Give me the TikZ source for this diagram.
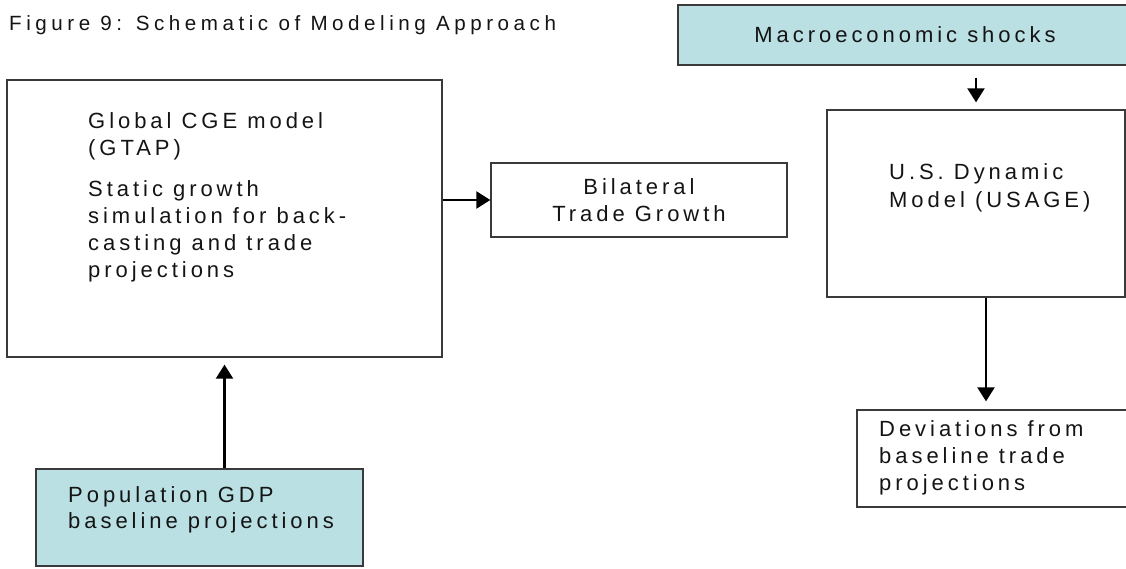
\documentclass[tikz,border=0pt]{standalone}
\usepackage{fontspec}
\setmainfont{Liberation Sans}
\newfontfamily\spaced[LetterSpace=18]{Liberation Sans}
\newfontfamily\titlespaced[LetterSpace=22]{Liberation Sans}
\usetikzlibrary{arrows.meta}
\definecolor{shockfill}{RGB}{186,224,228}
\definecolor{edge}{RGB}{58,58,58}
\definecolor{ink}{RGB}{20,20,20}
\tikzset{
  box/.style={draw=edge, line width=1.3pt, rectangle, inner sep=0pt},
  inputbox/.style={box, fill=shockfill},
  lbl/.style={inner sep=0pt, text=ink, font=\spaced\fontsize{22}{27}\selectfont},
  ttl/.style={inner sep=0pt, text=ink, font=\titlespaced\fontsize{20.6}{24}\selectfont},
  arr/.style={line width=2.2pt, -{Triangle[length=14pt,width=17pt]}}
}
\begin{document}
\begin{tikzpicture}[x=1pt,y=-1pt]
\useasboundingbox (0,0) rectangle (1126,569);

% title
\node[ttl, anchor=base west] (title) at (9,31) {Figure 9: Schematic of Modeling Approach};

% boxes
\node[box, minimum width=435pt, minimum height=277pt] (cge) at (224.5,218.5) {};
\node[box, minimum width=296pt, minimum height=74pt] (bil) at (639,200) {};
\node[inputbox, minimum width=457pt, minimum height=60pt] (macro) at (906.5,35) {};
\node[box, minimum width=298pt, minimum height=187pt] (usage) at (976,203.5) {};
\node[inputbox, minimum width=327pt, minimum height=97pt] (pop) at (199.5,517.5) {};
\node[box, minimum width=283pt, minimum height=97pt] (dev) at (998.5,458.5) {};

% box texts
\node[lbl, anchor=base west] (cgeA) at (88,129) {Global CGE model};
\node[lbl, anchor=base west] (cgeB) at (88,156) {(GTAP)};
\node[lbl, anchor=base west] (cgeC) at (88,197) {Static growth};
\node[lbl, anchor=base west] (cgeD) at (88,224) {simulation for back-};
\node[lbl, anchor=base west] (cgeE) at (88,251) {casting and trade};
\node[lbl, anchor=base west] (cgeF) at (88,277) {projections};

\node[lbl, anchor=base] (bilA) at (639,195) {Bilateral};
\node[lbl, anchor=base] (bilB) at (639,222) {Trade Growth};

\node[lbl, anchor=base] (macroA) at (905,43) {Macroeconomic shocks};

\node[lbl, anchor=base west] (usageA) at (889,180) {U.S. Dynamic};
\node[lbl, anchor=base west] (usageB) at (889,208) {Model (USAGE)};

\node[lbl, anchor=base west] (popA) at (68,502) {Population GDP};
\node[lbl, anchor=base west] (popB) at (68,528) {baseline projections};

\node[lbl, anchor=base west] (devA) at (879,436) {Deviations from};
\node[lbl, anchor=base west] (devB) at (879,463) {baseline trade};
\node[lbl, anchor=base west] (devC) at (879,490) {projections};

% connectors
\draw[arr] (bil.west -| cge.east) -- (bil.west);
\draw[arr, shorten >=7pt] (pop.north -| cge.south) -- (cge.south);
\draw[arr, shorten <=12pt, shorten >=7pt] (macro.south -| usage.north) -- (usage.north);
\draw[arr, shorten >=8pt] ([xshift=10pt]usage.south) -- ([xshift=10pt]usage.south |- dev.north);
\end{tikzpicture}
\end{document}
